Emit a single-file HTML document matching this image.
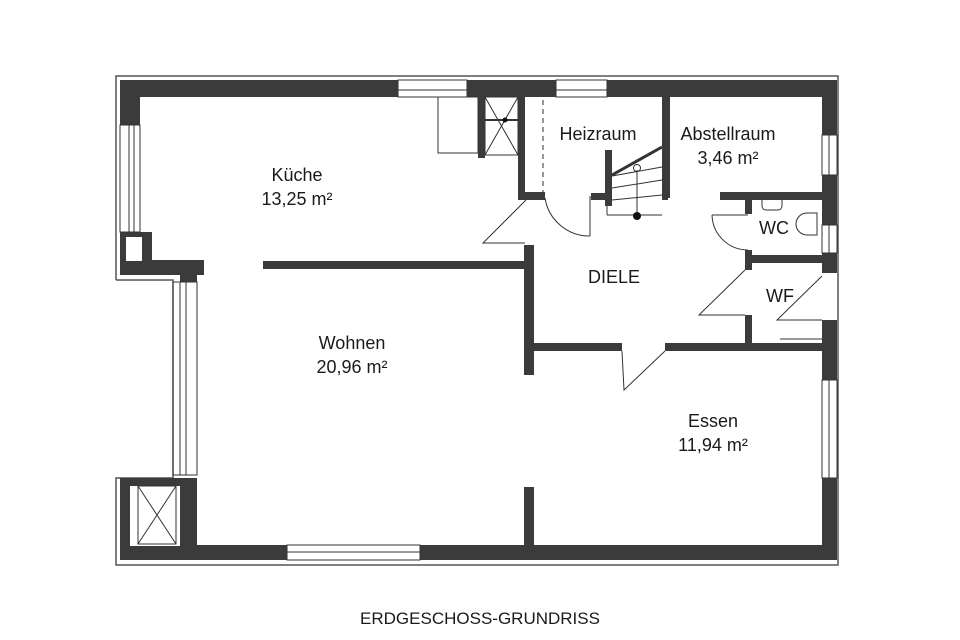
<!DOCTYPE html>
<html><head><meta charset="utf-8"><style>
html,body{margin:0;padding:0;background:#fff;width:960px;height:640px;overflow:hidden}
svg{display:block}
text{font-family:"Liberation Sans",sans-serif;fill:#1a1a1a;font-size:18px;text-anchor:middle}
</style></head><body>
<svg width="960" height="640" viewBox="0 0 960 640">
<g fill="none" stroke="#555" stroke-width="1.5">
<polyline points="116,280 116,76 838,76 838,565 116,565 116,478 173,478 173,280 116,280"/>
</g>
<g fill="#3b3b3b">
<rect x="120" y="80" width="278" height="17"/>
<rect x="467" y="80" width="89" height="17"/>
<rect x="607" y="80" width="229" height="17"/>
<rect x="120" y="80" width="20" height="45"/>
<rect x="120" y="232" width="32" height="43"/>
<rect x="120" y="260" width="84" height="15"/>
<rect x="180" y="260" width="17" height="22"/>
<rect x="120" y="478" width="77" height="82"/>
<rect x="120" y="545" width="167" height="15"/>
<rect x="420" y="545" width="416" height="15"/>
<rect x="822" y="80" width="15" height="55"/>
<rect x="822" y="175" width="15" height="50"/>
<rect x="822" y="253" width="15" height="20"/>
<rect x="822" y="320" width="15" height="60"/>
<rect x="822" y="478" width="15" height="82"/>
<rect x="263" y="261" width="267" height="8"/>
<rect x="524" y="245" width="10" height="130"/>
<rect x="524" y="487" width="10" height="58"/>
<rect x="478" y="97" width="7" height="61"/>
<rect x="518" y="97" width="7" height="98"/>
<rect x="518" y="192" width="27" height="8"/>
<rect x="662" y="97" width="8" height="101"/>
<rect x="662" y="192" width="6" height="8"/>
<rect x="591" y="193" width="18" height="7"/>
<rect x="605" y="150" width="7" height="56"/>
<rect x="720" y="192" width="102" height="8"/>
<rect x="745" y="200" width="7" height="14"/>
<rect x="745" y="250" width="7" height="20"/>
<rect x="745" y="255" width="77" height="8"/>
<rect x="745" y="315" width="7" height="28"/>
<rect x="534" y="343" width="88" height="8"/>
<rect x="665" y="343" width="157" height="8"/>
</g>
<g fill="#fff">
<rect x="130" y="486" width="50" height="60"/>
<rect x="126" y="237" width="16" height="24"/>
</g>
<g fill="none" stroke="#333" stroke-width="1">
<rect x="398" y="80" width="69" height="17"/><line x1="398" y1="90" x2="467" y2="90"/>
<rect x="556" y="80" width="51" height="17"/><line x1="556" y1="90" x2="607" y2="90"/>
<rect x="120" y="125" width="20" height="107"/><line x1="129" y1="125" x2="129" y2="232"/><line x1="134" y1="125" x2="134" y2="232"/>
<rect x="173" y="282" width="24" height="193"/><line x1="180" y1="282" x2="180" y2="475"/><line x1="186" y1="282" x2="186" y2="475"/>
<rect x="287" y="545" width="133" height="15"/><line x1="287" y1="552" x2="420" y2="552"/>
<rect x="822" y="135" width="15" height="40"/><line x1="829" y1="135" x2="829" y2="175"/>
<rect x="822" y="225" width="15" height="28"/><line x1="829" y1="225" x2="829" y2="253"/>
<rect x="822" y="380" width="15" height="98"/><line x1="829" y1="380" x2="829" y2="478"/>
<rect x="138" y="486" width="38" height="58"/>
<path d="M138,486 L176,544 M176,486 L138,544"/>
<rect x="485" y="97" width="33" height="58"/>
<path d="M485,97 L518,155 M518,97 L485,155"/>
<line x1="485" y1="120" x2="518" y2="120" stroke-width="2"/>
<rect x="438" y="97" width="40" height="56"/>
<line x1="543" y1="100" x2="543" y2="192" stroke-dasharray="5,4"/>
<polyline points="526,200 483,243 525,243"/>
<path d="M545,198 A45,45 0 0 0 590,236"/><line x1="590" y1="196" x2="590" y2="236"/>
<polyline points="622,351 624,390 665,351"/>
<path d="M712,215 A36,36 0 0 0 748,250"/><line x1="712" y1="215" x2="748" y2="215"/>
<polyline points="745,270 699,315 745,315"/>
<polyline points="822,276 777,320 822,320"/>
<line x1="780" y1="339" x2="822" y2="339"/>
<line x1="612" y1="175" x2="662" y2="147" stroke-width="3"/>
<line x1="612" y1="188" x2="662" y2="180"/><line x1="612" y1="200" x2="662" y2="195"/>
<line x1="612" y1="176" x2="662" y2="167"/><line x1="607" y1="215" x2="662" y2="215"/>
<line x1="607" y1="206" x2="607" y2="215"/>
<line x1="637" y1="170" x2="637" y2="215"/>
<circle cx="637" cy="168" r="3.5"/>
<path d="M762,200 v6 a4,4 0 0 0 4,4 h12 a4,4 0 0 0 4,-4 v-6"/>
<path d="M817,213 h-10 a11,11 0 0 0 0,22 h10 z"/>
</g>
<circle cx="637" cy="216" r="4" fill="#111"/>
<circle cx="505" cy="120" r="2.5" fill="#111"/>
<text x="297" y="181">Küche</text>
<text x="297" y="205">13,25 m²</text>
<text x="598" y="140">Heizraum</text>
<text x="728" y="140">Abstellraum</text>
<text x="728" y="164">3,46 m²</text>
<text x="774" y="234">WC</text>
<text x="614" y="283">DIELE</text>
<text x="780" y="302">WF</text>
<text x="352" y="349">Wohnen</text>
<text x="352" y="373">20,96 m²</text>
<text x="713" y="427">Essen</text>
<text x="713" y="451">11,94 m²</text>
<text x="480" y="624" style="font-size:17px">ERDGESCHOSS-GRUNDRISS</text>
</svg>
</body></html>
